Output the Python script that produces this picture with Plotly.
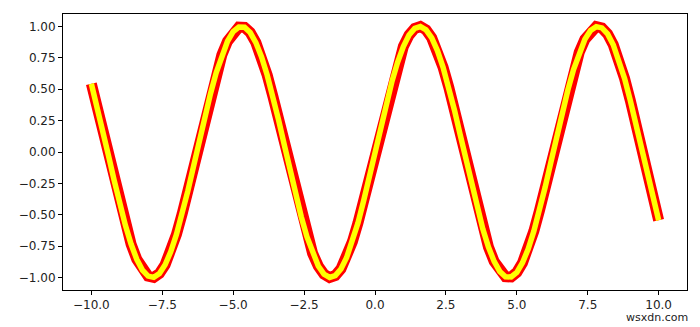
import plotly.graph_objects as go

x_vals = [-10.0, -9.8, -9.6, -9.4, -9.2, -9.0, -8.8, -8.6, -8.4, -8.2,
          -8.0, -7.8, -7.6, -7.4, -7.2, -7.0, -6.8, -6.6, -6.4, -6.2,
          -6.0, -5.8, -5.6, -5.4, -5.2, -5.0, -4.8, -4.6, -4.4, -4.2,
          -4.0, -3.8, -3.6, -3.4, -3.2, -3.0, -2.8, -2.6, -2.4, -2.2,
          -2.0, -1.8, -1.6, -1.4, -1.2, -1.0, -0.8, -0.6, -0.4, -0.2,
          0.0, 0.2, 0.4, 0.6, 0.8, 1.0, 1.2, 1.4, 1.6, 1.8,
          2.0, 2.2, 2.4, 2.6, 2.8, 3.0, 3.2, 3.4, 3.6, 3.8,
          4.0, 4.2, 4.4, 4.6, 4.8, 5.0, 5.2, 5.4, 5.6, 5.8,
          6.0, 6.2, 6.4, 6.6, 6.8, 7.0, 7.2, 7.4, 7.6, 7.8,
          8.0, 8.2, 8.4, 8.6, 8.8, 9.0, 9.2, 9.4, 9.6, 9.8, 10.0]

y_vals = [0.544, 0.366, 0.174, -0.025, -0.223, -0.412, -0.585, -0.734, -0.855, -0.941,
          -0.989, -0.999, -0.968, -0.899, -0.794, -0.657, -0.494, -0.312, -0.117, 0.083,
          0.279, 0.465, 0.631, 0.773, 0.883, 0.959, 0.996, 0.994, 0.952, 0.872,
          0.757, 0.612, 0.443, 0.256, 0.058, -0.141, -0.335, -0.516, -0.675, -0.808,
          -0.909, -0.974, -1.000, -0.985, -0.932, -0.841, -0.717, -0.565, -0.389, -0.199,
          0.0, 0.199, 0.389, 0.565, 0.717, 0.841, 0.932, 0.985, 1.000, 0.974,
          0.909, 0.808, 0.675, 0.516, 0.335, 0.141, -0.058, -0.256, -0.443, -0.612,
          -0.757, -0.872, -0.952, -0.994, -0.996, -0.959, -0.883, -0.773, -0.631, -0.465,
          -0.279, -0.083, 0.117, 0.312, 0.494, 0.657, 0.794, 0.899, 0.968, 0.999,
          0.989, 0.941, 0.855, 0.734, 0.585, 0.412, 0.223, 0.025, -0.174, -0.366, -0.544]

x_ticks = [-10.0, -7.5, -5.0, -2.5, 0.0, 2.5, 5.0, 7.5, 10.0]
x_tick_text = ["\u221210.0", "\u22127.5", "\u22125.0", "\u22122.5", "0.0", "2.5", "5.0", "7.5", "10.0"]
y_ticks = [-1.0, -0.75, -0.5, -0.25, 0.0, 0.25, 0.5, 0.75, 1.0]
y_tick_text = ["\u22121.00", "\u22120.75", "\u22120.50", "\u22120.25", "0.00", "0.25", "0.50", "0.75", "1.00"]

fig = go.Figure()
fig.add_trace(go.Scatter(x=x_vals, y=y_vals, mode="lines",
                         line=dict(color="red", width=11), hoverinfo="skip", showlegend=False))
fig.add_trace(go.Scatter(x=x_vals, y=y_vals, mode="lines",
                         line=dict(color="yellow", width=5.5), showlegend=False))

axis_common = dict(showgrid=False, zeroline=False, showline=True, linecolor="black",
                   linewidth=1, mirror=True, ticks="outside", ticklen=4, tickwidth=1,
                   tickcolor="black", tickfont=dict(family="DejaVu Sans", size=12, color="#222"))

fig.update_xaxes(range=[-11, 11], tickvals=x_ticks, ticktext=x_tick_text, **axis_common)
fig.update_yaxes(range=[-1.1, 1.1], tickvals=y_ticks, ticktext=y_tick_text, **axis_common)

fig.update_layout(width=700, height=327, margin=dict(l=63, r=13, t=14, b=37),
                  paper_bgcolor="white", plot_bgcolor="white")

fig.add_annotation(text="wsxdn.com", xref="paper", yref="paper", x=1.004, y=-0.072,
                   xanchor="right", yanchor="top", showarrow=False, borderpad=0,
                   font=dict(family="DejaVu Sans", size=11, color="#222"))

fig.write_html("out.html")
